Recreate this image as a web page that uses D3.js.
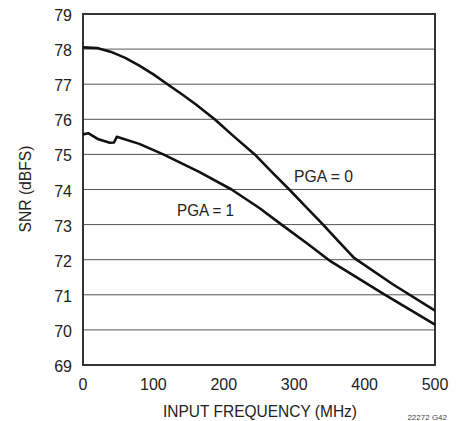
<!DOCTYPE html>
<html lang="en">
  <head>
    <meta charset="UTF-8" />
    <title>SNR vs Input Frequency</title>
    <script src="https://d3js.org/d3.v7.min.js"></script>
    <style>
      body {
        margin: 0;
        background: #fff;
      }
      .tick-label {
        font-family: "Liberation Sans", Arial, sans-serif;
        font-size: 16px;
        fill: #222;
      }
      .title,
      .curve-label {
        font-family: "Liberation Sans", Arial, sans-serif;
        font-size: 17px;
        fill: #222;
      }
      .footnote {
        font-family: "Liberation Sans", Arial, sans-serif;
        font-size: 8px;
        fill: #444;
      }
    </style>
  </head>
  <body>
    <div id="chart"></div>
    <script>
      // data
      const xTicks = [0, 100, 200, 300, 400, 500];
      const yTicks = [69, 70, 71, 72, 73, 74, 75, 76, 77, 78, 79];

      const pga0Freq = [0, 20, 40, 60, 80, 100, 120, 140, 160, 187, 215, 244, 268, 293, 317, 341, 363, 385, 440, 500];
      const pga0Snr = [78.05, 78.03, 77.92, 77.75, 77.53, 77.28, 77.0, 76.72, 76.43, 76.0, 75.5, 75.0, 74.5, 74.0, 73.5, 73.0, 72.52, 72.05, 71.3, 70.55];

      const pga1Freq = [0, 8, 22, 38, 44, 48, 80, 114, 165, 211, 250, 282, 318, 352, 425, 500];
      const pga1Snr = [75.57, 75.6, 75.43, 75.33, 75.34, 75.5, 75.3, 75.0, 74.5, 74.0, 73.48, 73.0, 72.47, 71.95, 71.05, 70.15];

      const W = 463,
        H = 421;
      const margin = { top: 14, right: 28, bottom: 56, left: 83 };
      const width = W - margin.left - margin.right,
        height = H - margin.top - margin.bottom;

      const svg = d3
        .select("#chart")
        .append("svg")
        .attr("width", W)
        .attr("height", H);

      const g = svg
        .append("g")
        .attr("transform", `translate(${margin.left},${margin.top})`);

      const x = d3.scaleLinear().domain([0, 500]).range([0, width]);
      const y = d3.scaleLinear().domain([69, 79]).range([height, 0]);

      // horizontal grid
      g.append("g")
        .selectAll("line")
        .data(yTicks.slice(1, -1))
        .enter()
        .append("line")
        .attr("x1", 0)
        .attr("x2", width)
        .attr("y1", (d) => y(d))
        .attr("y2", (d) => y(d))
        .attr("stroke", "#555")
        .attr("stroke-width", 1);

      // frame
      g.append("rect")
        .attr("x", 0)
        .attr("y", 0)
        .attr("width", width)
        .attr("height", height)
        .attr("fill", "none")
        .attr("stroke", "#333")
        .attr("stroke-width", 2);

      // y tick labels
      g.append("g")
        .selectAll("text")
        .data(yTicks)
        .enter()
        .append("text")
        .attr("class", "tick-label")
        .attr("x", -11)
        .attr("y", (d) => y(d) + 7)
        .attr("text-anchor", "end")
        .text((d) => d);

      // x tick labels
      g.append("g")
        .selectAll("text")
        .data(xTicks)
        .enter()
        .append("text")
        .attr("class", "tick-label")
        .attr("x", (d) => x(d))
        .attr("y", height + 25)
        .attr("text-anchor", "middle")
        .text((d) => d);

      const line = d3
        .line()
        .x((d) => x(d[0]))
        .y((d) => y(d[1]));

      const series = [
        d3.zip(pga0Freq, pga0Snr),
        d3.zip(pga1Freq, pga1Snr),
      ];

      g.selectAll(".curve")
        .data(series)
        .enter()
        .append("path")
        .attr("class", "curve")
        .attr("d", line)
        .attr("fill", "none")
        .attr("stroke", "#111")
        .attr("stroke-width", 2.6)
        .attr("stroke-linejoin", "round");

      // curve labels (condensed to match the narrow face of the original)
      g.append("text")
        .attr("class", "curve-label")
        .attr("x", 294 - margin.left)
        .attr("y", 182 - margin.top)
        .attr("textLength", 59)
        .attr("lengthAdjust", "spacingAndGlyphs")
        .text("PGA = 0");

      g.append("text")
        .attr("class", "curve-label")
        .attr("x", 177 - margin.left)
        .attr("y", 216 - margin.top)
        .attr("textLength", 57)
        .attr("lengthAdjust", "spacingAndGlyphs")
        .text("PGA = 1");

      // axis titles
      svg
        .append("text")
        .attr("class", "title")
        .attr("x", 163)
        .attr("y", 417)
        .attr("textLength", 194)
        .attr("lengthAdjust", "spacingAndGlyphs")
        .text("INPUT FREQUENCY (MHz)");

      svg
        .append("text")
        .attr("class", "title")
        .attr("transform", `translate(31,${margin.top + height / 2 + 43}) rotate(-90)`)
        .attr("textLength", 87)
        .attr("lengthAdjust", "spacingAndGlyphs")
        .text("SNR (dBFS)");

      svg
        .append("text")
        .attr("class", "footnote")
        .attr("x", 447)
        .attr("y", 420)
        .attr("text-anchor", "end")
        .text("22272 G42");
    </script>
  </body>
</html>
